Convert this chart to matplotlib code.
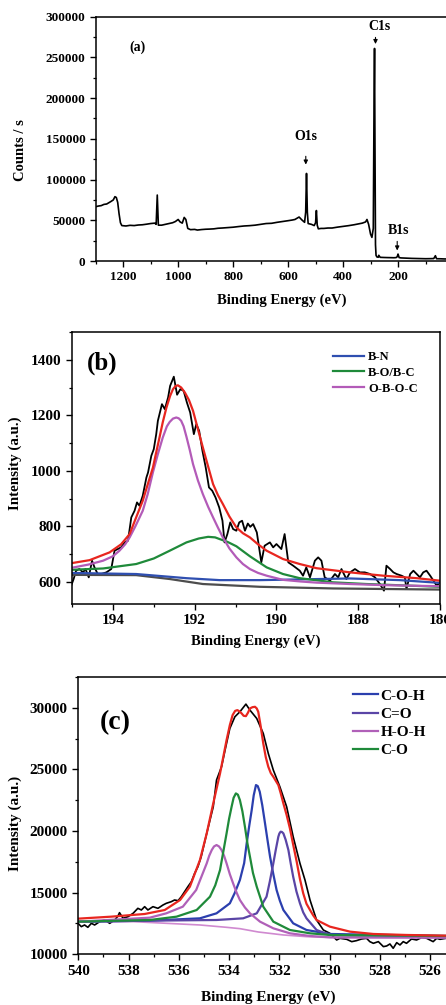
import matplotlib
matplotlib.use("Agg")
import matplotlib.pyplot as plt
from matplotlib.ticker import MultipleLocator

plt.rcParams['font.family'] = ['Liberation Serif', 'DejaVu Serif']
plt.rcParams['font.weight'] = 'bold'
plt.rcParams['axes.labelweight'] = 'bold'

# ---------------- (a) survey spectrum ----------------
survey_E = [1300, 1290, 1280, 1270, 1260, 1250, 1245, 1236, 1230, 1225, 1220, 1215, 1210, 1205,
            1190, 1175, 1160, 1145, 1130, 1115, 1100, 1085, 1080, 1076, 1072, 1060, 1040, 1020,
            1010, 1000, 993, 985, 978, 972, 965, 955, 940, 930, 915, 900, 885, 870, 855, 840,
            820, 800, 780, 760, 740, 720, 700, 680, 660, 640, 620, 600, 585, 575, 560, 550, 540,
            536, 533, 530, 527, 515, 505, 500, 497, 494, 490, 480, 470, 455, 440, 420, 400, 380,
            360, 345, 330, 318, 313, 307, 300, 295, 290, 287.5, 285.5, 284, 282, 280, 277, 272,
            270, 265, 250, 240, 225, 215, 207, 203, 200, 196, 190, 170, 150, 125, 100, 80, 70,
            64, 60, 45, 30, 15, 0]
survey_counts = [66700, 67500, 68000, 69500, 70000, 72000, 73000, 75000, 79000, 78000, 72000,
                 58000, 47000, 43500, 43000, 43800, 43500, 44200, 44500, 45200, 46000, 46500,
                 45000, 81000, 44000, 44000, 45500, 47000, 48500, 51000, 48000, 46500, 53500,
                 51000, 40000, 38500, 38800, 38000, 38600, 39000, 39200, 39500, 40200, 40500,
                 41000, 41500, 42300, 43000, 43400, 44000, 45000, 46000, 46300, 47500, 48500,
                 49500, 50300, 51000, 54000, 50500, 47500, 60000, 107500, 60000, 46000, 45000,
                 43500, 47000, 62000, 44000, 39500, 40000, 40000, 40500, 40500, 41600, 42500,
                 43400, 44500, 45500, 46500, 48000, 51000, 45000, 33000, 29000, 40000, 180000,
                 261000, 150000, 20000, 7000, 5000, 4600, 7000, 4500, 4300, 4200, 4100, 4000,
                 4200, 5200, 8500, 4200, 3800, 3500, 3200, 3000, 2800, 2900, 3000, 6500, 2800,
                 2700, 2500, 2500, 2500]

# ---------------- (b) B1s ----------------
b1s_E = [195.02, 194.96, 194.90, 194.82, 194.73, 194.67, 194.59, 194.51, 194.45, 194.37, 194.29,
         194.16, 194.04, 193.96, 193.88, 193.80, 193.71, 193.63, 193.55, 193.47, 193.41, 193.35,
         193.27, 193.18, 193.14, 193.06, 193.00, 192.94, 192.90, 192.84, 192.80, 192.73, 192.65,
         192.60, 192.51, 192.43, 192.35, 192.27, 192.19, 192.11, 192.02, 191.96, 191.89, 191.81,
         191.73, 191.65, 191.57, 191.49, 191.40, 191.32, 191.27, 191.20, 191.13, 191.06, 190.98,
         190.91, 190.84, 190.77, 190.70, 190.64, 190.57, 190.48, 190.37, 190.29, 190.16, 190.08,
         190.00, 189.88, 189.80, 189.71, 189.59, 189.43, 189.35, 189.27, 189.18, 189.06, 188.98,
         188.90, 188.82, 188.69, 188.57, 188.49, 188.41, 188.29, 188.20, 188.08, 187.96, 187.84,
         187.71, 187.59, 187.47, 187.37, 187.31, 187.22, 187.14, 187.06, 186.94, 186.86, 186.82,
         186.73, 186.65, 186.57, 186.49, 186.41, 186.33, 186.24, 186.16, 186.08, 186.00]
b1s_I = [586, 610, 640, 646, 634, 646, 616, 676, 652, 628, 628, 634, 646, 712, 718, 724, 742, 748,
         832, 856, 886, 874, 910, 976, 994, 1054, 1078, 1132, 1180, 1216, 1240, 1222, 1264, 1306,
         1339, 1274, 1294, 1288, 1246, 1210, 1132, 1168, 1144, 1072, 1012, 940, 928, 904, 868,
         820, 742, 772, 814, 790, 784, 814, 820, 784, 810, 798, 808, 778, 670, 730, 742, 724,
         736, 718, 772, 670, 658, 640, 622, 652, 616, 676, 688, 676, 616, 604, 628, 616, 646,
         610, 634, 646, 634, 634, 628, 616, 592, 568, 658, 646, 634, 628, 622, 616, 574, 628,
         640, 628, 616, 634, 640, 622, 604, 586, 598]

b_env_E = [195.06, 194.57, 194.08, 193.80, 193.59, 193.45, 193.27, 193.15, 193.02, 192.95,
           192.86, 192.78, 192.69, 192.60, 192.53, 192.47, 192.41, 192.33, 192.24, 192.14,
           192.04, 191.92, 191.80, 191.67, 191.55, 191.43, 191.31, 191.15, 190.98, 190.82,
           190.65, 190.45, 190.24, 189.84, 189.43, 189.02, 188.20, 187.39, 186.57, 186.00]
b_env_I = [666, 678, 706, 735, 772, 825, 892, 950, 1012, 1060, 1120, 1175, 1228, 1270, 1294,
           1305, 1308, 1300, 1282, 1255, 1216, 1150, 1084, 1015, 952, 912, 880, 835, 796, 775,
           760, 735, 712, 682, 664, 649, 634, 622, 613, 604]

obc_E = [195.06, 194.60, 194.24, 194.00, 193.84, 193.70, 193.59, 193.45, 193.27, 193.15, 193.02,
         192.90, 192.78, 192.68, 192.61, 192.53, 192.45, 192.39, 192.33, 192.27, 192.20, 192.12,
         192.04, 191.92, 191.80, 191.67, 191.55, 191.43, 191.31, 191.15, 190.98, 190.82, 190.65,
         190.45, 190.24, 189.84, 189.40, 189.02, 188.20, 187.39, 186.00]
obc_I = [649, 662, 676, 692, 712, 735, 760, 800, 856, 915, 995, 1060, 1120, 1160, 1176, 1188,
         1192, 1189, 1180, 1160, 1122, 1075, 1024, 965, 916, 870, 832, 795, 760, 720, 688, 664,
         646, 632, 622, 607, 601, 597, 592, 588, 584]

boc_E = [195.06, 194.24, 193.43, 193.00, 192.61, 192.20, 191.90, 191.67, 191.50, 191.39, 191.20,
         190.98, 190.65, 190.24, 189.84, 189.43, 188.61, 187.80, 186.00]
boc_I = [643, 648, 664, 684, 712, 742, 756, 762, 760, 754, 744, 728, 692, 652, 628, 613, 598,
         592, 582]

bn_E = [195.06, 193.43, 192.20, 191.39, 190.41, 188.20, 186.98, 186.00]
bn_I = [632, 628, 613, 606, 606, 612, 606, 596]

b_bg_E = [195.06, 193.43, 192.61, 191.80, 190.41, 188.61, 186.00]
b_bg_I = [625, 624, 610, 592, 582, 576, 572]

# ---------------- (c) O1s ----------------
o1s_E = [540.01, 539.88, 539.75, 539.62, 539.48, 539.35, 539.15, 538.95, 538.75, 538.55, 538.42,
         538.36, 538.22, 538.02, 537.82, 537.63, 537.49, 537.36, 537.23, 537.03, 536.83, 536.63,
         536.50, 536.30, 536.17, 536.03, 535.90, 535.77, 535.64, 535.50, 535.37, 535.24, 535.11,
         534.89, 534.63, 534.50, 534.30, 534.16, 533.97, 533.77, 533.57, 533.33, 533.17, 532.90,
         532.64, 532.44, 532.24, 531.98, 531.71, 531.45, 531.18, 530.98, 530.78, 530.52, 530.25,
         529.99, 529.72, 529.59, 529.32, 529.12, 528.93, 528.73, 528.53, 528.40, 528.26, 528.06,
         527.86, 527.73, 527.60, 527.47, 527.33, 527.20, 527.07, 526.94, 526.74, 526.54, 526.34,
         526.14, 526.01, 525.88, 525.74, 525.61, 525.37, 525.0, 524.5, 524.0]
o1s_I = [12514, 12244, 12379, 12189, 12514, 12379, 12649, 12784, 12514, 12784, 13108, 13379,
         12919, 13054, 13325, 13730, 13595, 13865, 13595, 13865, 13730, 14000, 14136, 14271,
         14406, 14352, 14676, 15082, 15487, 15893, 16568, 17109, 17920, 19812, 21974, 24137,
         25218, 26569, 28326, 29272, 29678, 30300, 29813, 29137, 27921, 26299, 24948, 23596,
         21974, 19541, 17379, 16028, 14406, 12784, 11973, 11703, 11162, 11297, 11216, 11027,
         11108, 11243, 11297, 11027, 10892, 11027, 10622, 10676, 10838, 10487, 10946, 10757,
         11027, 10892, 11243, 11162, 11352, 11297, 11162, 11027, 11297, 11216, 11297, 11200,
         11250, 11200]

c_env_E = [540.01, 538.69, 537.36, 536.56, 535.95, 535.56, 535.16, 534.89, 534.63, 534.36,
           534.10, 533.97, 533.86, 533.76, 533.67, 533.58, 533.50, 533.42, 533.33, 533.25,
           533.17, 533.07, 532.97, 532.90, 532.84, 532.75, 532.64, 532.54, 532.44, 532.34,
           532.24, 532.04, 531.95, 531.84, 531.71, 531.58, 531.45, 531.31, 531.18, 531.05,
           530.92, 530.78, 530.65, 530.52, 529.99, 529.19, 528.26, 526.94, 525.37, 524.0]
c_env_I = [12892, 13054, 13271, 13595, 14406, 15487, 17649, 19812, 22245, 24678, 27380, 28600,
           29407, 29750, 29813, 29700, 29543, 29350, 29326, 29600, 29948, 30050, 30083, 29950,
           29678, 28600, 27110, 26000, 25218, 24700, 24407, 23731, 23100, 22245, 21300, 20217,
           18900, 17514, 16100, 14946, 14100, 13595, 13150, 12784, 12244, 11838, 11649, 11568,
           11514, 11480]

co_E = [540.01, 537.15, 536.09, 535.29, 534.76, 534.55, 534.36, 534.10, 534.00, 533.90, 533.82,
        533.73, 533.65, 533.57, 533.47, 533.37, 533.27, 533.17, 533.05, 532.90, 532.64, 532.24,
        531.58, 530.78, 529.99, 525.37, 524.0]
co_I = [12649, 12784, 13054, 13595, 14676, 15600, 16839, 19812, 21000, 21974, 22700, 23055,
        22950, 22515, 21600, 20353, 19000, 17920, 16600, 15487, 13865, 12649, 11973, 11703,
        11568, 11487, 11480]

coh_E = [540.01, 537.15, 535.16, 534.50, 533.97, 533.77, 533.57, 533.40, 533.30, 533.20, 533.10,
         533.02, 532.93, 532.86, 532.78, 532.68, 532.57, 532.47, 532.37, 532.24, 532.11, 531.98,
         531.84, 531.45, 530.92, 529.99, 525.37, 524.0]
coh_I = [12649, 12730, 12919, 13325, 14136, 15000, 16028, 17400, 19001, 20400, 21704, 22900,
         23731, 23650, 23190, 22100, 20623, 19250, 17920, 16500, 15217, 14350, 13595, 12514,
         11973, 11649, 11487, 11480]

cdo_E = [540.01, 537.15, 534.50, 533.44, 532.90, 532.51, 532.38, 532.24, 532.14, 532.04, 532.00,
         531.95, 531.90, 531.84, 531.75, 531.64, 531.55, 531.45, 531.32, 531.18, 531.05, 530.92,
         530.52, 529.99, 525.37, 524.0]
cdo_I = [12649, 12730, 12784, 12919, 13325, 14676, 15900, 17379, 18500, 19541, 19800, 19947,
         19930, 19812, 19300, 18460, 17400, 16298, 15100, 14136, 13400, 12919, 11973, 11568,
         11432, 11430]

hoh_E = [540.01, 537.15, 536.50, 535.84, 535.31, 535.10, 534.89, 534.79, 534.69, 534.60, 534.50,
         534.40, 534.30, 534.20, 534.10, 533.97, 533.84, 533.70, 533.57, 533.37, 533.17, 532.77,
         532.24, 531.58, 530.78, 529.99, 525.37, 524.0]
hoh_I = [12649, 12974, 13325, 13865, 15217, 16300, 17379, 18000, 18460, 18750, 18866, 18750,
         18460, 18000, 17379, 16500, 15758, 15000, 14406, 13800, 13325, 12649, 12108, 11703,
         11487, 11378, 11351, 11350]

c_bg_E = [540.01, 537.81, 536.49, 535.16, 534.10, 533.57, 532.84, 531.84, 530.92, 529.86,
          525.37, 524.0]
c_bg_I = [12649, 12649, 12514, 12379, 12189, 12081, 11811, 11568, 11432, 11351, 11351, 11350]

W, H = 446, 1005
fig = plt.figure(figsize=(W / 100, H / 100), dpi=100)


def axes_px(left, top, right, bottom):
    return fig.add_axes([left / W, 1 - bottom / H, (right - left) / W, (bottom - top) / H])


def style(ax, fs):
    for s in ax.spines.values():
        s.set_linewidth(1.1)
    ax.tick_params(which='major', direction='out', length=4, width=1.0, labelsize=fs, pad=3.5)
    ax.tick_params(which='minor', direction='out', length=2.5, width=0.9)
    ax.tick_params(top=False, right=False)
    for lab in ax.get_xticklabels() + ax.get_yticklabels():
        lab.set_fontweight('bold')


def ftext(px, py, s, **kw):
    fig.text(px / W, 1 - py / H, s, ha='center', va='center', fontweight='bold', **kw)


# ---- panel (a)
axa = axes_px(95.7, 16.7, 449.7, 261)
axa.plot(survey_E, survey_counts, color='black', lw=1.2)
axa.set_xlim(1300, 12)
axa.set_ylim(0, 300000)
axa.xaxis.set_major_locator(MultipleLocator(200))
axa.xaxis.set_minor_locator(MultipleLocator(100))
axa.yaxis.set_major_locator(MultipleLocator(50000))
axa.yaxis.set_minor_locator(MultipleLocator(25000))
style(axa, 9.5)
axa.text(0.118, 0.876, '(a)', transform=axa.transAxes, ha='center', va='center',
         fontsize=10, fontweight='bold')
ap = dict(arrowstyle='-|>', lw=0.8, color='black', mutation_scale=6)
axa.annotate('', xy=(282, 263000), xytext=(282, 278000), arrowprops=ap)
axa.text(267, 288000, 'C1s', ha='center', va='center', fontsize=10, fontweight='bold')
axa.annotate('', xy=(535.6, 115000), xytext=(535.6, 132000), arrowprops=ap)
axa.text(536, 152600, 'O1s', ha='center', va='center', fontsize=10, fontweight='bold')
axa.annotate('', xy=(203, 9500), xytext=(203, 27500), arrowprops=ap)
axa.text(198, 38000, 'B1s', ha='center', va='center', fontsize=10, fontweight='bold')
ftext(282, 300, 'Binding Energy (eV)', fontsize=10.5)
ftext(20, 150, 'Counts / s', fontsize=10.5, rotation=90)

# ---- panel (b)
axb = axes_px(72, 332, 440, 604)
axb.plot(b1s_E, b1s_I, color='black', lw=1.3)
axb.plot(b_bg_E, b_bg_I, color='#4d4d4d', lw=1.6)
axb.plot(bn_E, bn_I, color='#2f4fb0', lw=1.6, label='B-N')
axb.plot(boc_E, boc_I, color='#1f8a3a', lw=1.6, label='B-O/B-C')
axb.plot(obc_E, obc_I, color='#b35bb8', lw=1.6, label='O-B-O-C')
axb.plot(b_env_E, b_env_I, color='#e8261f', lw=1.6)
axb.set_xlim(195, 186)
axb.set_ylim(520, 1500)
axb.xaxis.set_major_locator(MultipleLocator(2))
axb.xaxis.set_minor_locator(MultipleLocator(1))
axb.yaxis.set_major_locator(MultipleLocator(200))
axb.yaxis.set_minor_locator(MultipleLocator(100))
style(axb, 11)
axb.text(0.0815, 0.886, '(b)', transform=axb.transAxes, ha='center', va='center',
         fontsize=18, fontweight='bold')
axb.legend(loc='upper left', bbox_to_anchor=(0.709, 0.93), frameon=False,
           handlelength=2.5, handletextpad=0.3, labelspacing=0.3, borderpad=0,
           borderaxespad=0, prop={'weight': 'bold', 'size': 9})
ftext(256, 641, 'Binding Energy (eV)', fontsize=10.5)
ftext(15, 463, 'Intensity (a.u.)', fontsize=10.8, rotation=90)

# ---- panel (c)
axc = axes_px(78.3, 677, 480.4, 954.3)
axc.plot(o1s_E, o1s_I, color='black', lw=1.2)
axc.plot(c_bg_E, c_bg_I, color='#d08ad0', lw=1.2)
axc.plot(coh_E, coh_I, color='#2b3fae', lw=1.6, label='C-O-H')
axc.plot(cdo_E, cdo_I, color='#5a45a6', lw=1.6, label='C=O')
axc.plot(hoh_E, hoh_I, color='#b060b8', lw=1.6, label='H-O-H')
axc.plot(co_E, co_I, color='#1f8a3a', lw=1.6, label='C-O')
axc.plot(c_env_E, c_env_I, color='#e8261f', lw=1.6)
axc.set_xlim(540, 524)
axc.set_ylim(10000, 32500)
axc.xaxis.set_major_locator(MultipleLocator(2))
axc.xaxis.set_minor_locator(MultipleLocator(1))
axc.yaxis.set_major_locator(MultipleLocator(5000))
axc.yaxis.set_minor_locator(MultipleLocator(2500))
style(axc, 11)
axc.text(0.0913, 0.834, '(c)', transform=axc.transAxes, ha='center', va='center',
         fontsize=20, fontweight='bold')
axc.legend(loc='upper left', bbox_to_anchor=(0.683, 0.957), frameon=False,
           handlelength=1.65, handletextpad=0.15, labelspacing=0.3, borderpad=0,
           borderaxespad=0, prop={'weight': 'bold', 'size': 11})
ftext(268, 997, 'Binding Energy (eV)', fontsize=11)
ftext(15, 823, 'Intensity (a.u.)', fontsize=11, rotation=90)

fig.savefig('out.png', dpi=100)
